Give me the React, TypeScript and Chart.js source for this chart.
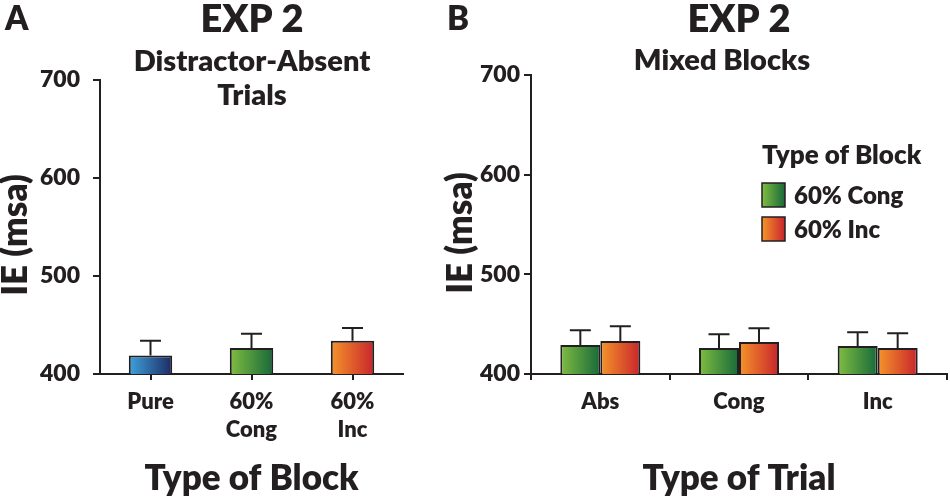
import React, { useEffect, useRef } from 'react';
import { Chart, registerables } from 'chart.js';

Chart.register(...registerables);

// ---------- data ----------
const blockCategories = ['Pure', ['60%', 'Cong'], ['60%', 'Inc']];
const blockMeans = [419, 426.5, 434];
const blockErrors = [15, 14.5, 13];

const trialCategories = ['Abs', 'Cong', 'Inc'];
const congMeans = [429, 426, 428];
const congErrors = [15, 14, 14];
const incMeans = [433, 432, 426];
const incErrors = [15, 14, 15];

const seriesNames = ['60% Cong', '60% Inc'];
const yMin = 400;
const yMax = 700;
const yStep = 100;

// ---------- styles ----------
const FONT = 'Lato, "Open Sans", sans-serif';
const WEIGHT = 800;
const INK = '#231f20';
const BLUE = ['#3fa2dc', '#1d2a63'];
const GREEN = ['#80bd41', '#17693a'];
const ORANGE = ['#f5952a', '#c8242c'];

type Stops = string[];

function grad(ctx: CanvasRenderingContext2D, x0: number, x1: number, s: Stops) {
  const g = ctx.createLinearGradient(x0, 0, x1, 0);
  g.addColorStop(0, s[0]);
  g.addColorStop(1, s[1]);
  return g;
}

function gradientPlugin(stopsFor: (di: number, i: number) => Stops) {
  return {
    id: 'barGradient',
    beforeDatasetsDraw(chart: any) {
      const ctx = chart.ctx;
      chart.data.datasets.forEach((_ds: any, di: number) => {
        const meta = chart.getDatasetMeta(di);
        meta.data.forEach((el: any, i: number) => {
          const x0 = el.x - el.width / 2;
          const x1 = el.x + el.width / 2;
          el.options = { ...el.options, backgroundColor: grad(ctx, x0, x1, stopsFor(di, i)) };
        });
      });
    },
  };
}

function errorBarPlugin(errorsFor: (di: number) => number[], capHalf: number) {
  return {
    id: 'errorBars',
    afterDatasetsDraw(chart: any) {
      const ctx = chart.ctx;
      const yScale = chart.scales.y;
      chart.data.datasets.forEach((ds: any, di: number) => {
        const meta = chart.getDatasetMeta(di);
        const errs = errorsFor(di);
        meta.data.forEach((el: any, i: number) => {
          const v = ds.data[i];
          const yTop = yScale.getPixelForValue(v + errs[i]);
          ctx.save();
          ctx.strokeStyle = INK;
          ctx.lineWidth = 2;
          ctx.beginPath();
          ctx.moveTo(el.x, el.y);
          ctx.lineTo(el.x, yTop);
          ctx.moveTo(el.x - capHalf, yTop);
          ctx.lineTo(el.x + capHalf, yTop);
          ctx.stroke();
          ctx.restore();
        });
      });
    },
  };
}

type TextItem = { text: string; x: number; y: number; size: number; align: CanvasTextAlign; rotate?: boolean };

type LegendSpec = { x: number; ys: number[]; labels: string[]; stops: Stops[]; textX: number; size: number; titleSize: number; titleY: number; title: string };

function textPlugin(items: TextItem[], legend?: LegendSpec) {
  return {
    id: 'panelText',
    afterDraw(chart: any) {
      const ctx: CanvasRenderingContext2D = chart.ctx;
      ctx.save();
      ctx.fillStyle = INK;
      ctx.textBaseline = 'alphabetic';
      items.forEach((t) => {
        ctx.font = `${WEIGHT} ${t.size}px ${FONT}`;
        ctx.textAlign = t.align;
        if (t.rotate) {
          ctx.save();
          ctx.translate(t.x, t.y);
          ctx.rotate(-Math.PI / 2);
          ctx.textBaseline = 'middle';
          ctx.fillText(t.text, 0, 0);
          ctx.restore();
        } else {
          ctx.fillText(t.text, t.x, t.y);
        }
      });
      if (legend) {
        ctx.font = `${WEIGHT} ${legend.titleSize}px ${FONT}`;
        ctx.textAlign = 'left';
        ctx.fillText(legend.title, legend.x, legend.titleY);
        ctx.font = `${WEIGHT} ${legend.size}px ${FONT}`;
        legend.labels.forEach((lab, i) => {
          const top = legend.ys[i];
          ctx.fillStyle = grad(ctx, legend.x, legend.x + 23, legend.stops[i]);
          ctx.fillRect(legend.x, top, 23, 24);
          ctx.strokeStyle = INK;
          ctx.lineWidth = 1.5;
          ctx.strokeRect(legend.x, top, 23, 24);
          ctx.fillStyle = INK;
          ctx.fillText(lab, legend.textX, top + 21);
        });
      }
      ctx.restore();
    },
  };
}

function axisScales(opts: { yWidth: number; yPad: number; gridOffset: boolean; xTitle: string }) {
  const tickFont = { family: FONT, size: 22, weight: WEIGHT as any, lineHeight: 1.27 };
  return {
    x: {
      type: 'category' as const,
      offset: true,
      grid: { offset: opts.gridOffset, drawOnChartArea: false, drawTicks: true, tickLength: 6, color: INK, lineWidth: 2 },
      border: { display: true, color: INK, width: 2 },
      ticks: { color: INK, font: tickFont, padding: 8, maxRotation: 0, autoSkip: false },
      title: {
        display: true,
        text: opts.xTitle,
        color: INK,
        font: { family: FONT, size: 35, weight: WEIGHT as any, lineHeight: 1.2 },
        padding: { top: 0, bottom: 3 },
      },
      afterFit: (s: any) => {
        s.height = 129;
      },
    },
    y: {
      min: yMin,
      max: yMax,
      ticks: { stepSize: yStep, color: INK, font: { family: FONT, size: 23, weight: WEIGHT as any }, padding: opts.yPad },
      grid: { drawOnChartArea: false, tickLength: 7, color: INK, lineWidth: 2 },
      border: { display: true, color: INK, width: 2 },
      title: { display: false },
      afterFit: (s: any) => {
        s.width = opts.yWidth;
      },
    },
  };
}

function PanelA() {
  const ref = useRef<HTMLCanvasElement>(null);
  useEffect(() => {
    const blockStops = [BLUE, GREEN, ORANGE];
    const chart = new Chart(ref.current!, {
      type: 'bar',
      data: {
        labels: blockCategories as any,
        datasets: [
          {
            data: blockMeans,
            backgroundColor: '#888',
            borderColor: INK,
            borderWidth: 2,
            borderSkipped: false,
            barPercentage: 0.43,
            categoryPercentage: 1,
          },
        ],
      },
      options: {
        animation: false,
        responsive: true,
        maintainAspectRatio: false,
        layout: { padding: { top: 80, left: 0, right: 72, bottom: 0 } },
        plugins: { legend: { display: false }, tooltip: { enabled: false } },
        scales: axisScales({ yWidth: 100, yPad: 13, gridOffset: false, xTitle: 'Type of Block' }) as any,
      },
      plugins: [
        gradientPlugin((_d, i) => blockStops[i]),
        errorBarPlugin(() => blockErrors, 10.5),
        textPlugin([
          { text: 'A', x: 5, y: 30, size: 33, align: 'left' },
          { text: 'EXP 2', x: 252, y: 32, size: 38, align: 'center' },
          { text: 'Distractor-Absent', x: 252, y: 71, size: 29, align: 'center' },
          { text: 'Trials', x: 252, y: 105, size: 29, align: 'center' },
          { text: 'IE (msa)', x: 16, y: 235, size: 35, align: 'center', rotate: true },
        ]),
      ],
    });
    return () => chart.destroy();
  }, []);
  return (
    <div style={{ position: 'absolute', left: 0, top: 0, width: 475, height: 503 }}>
      <canvas ref={ref} />
    </div>
  );
}

const B_LEFT = 435;

function PanelB() {
  const ref = useRef<HTMLCanvasElement>(null);
  useEffect(() => {
    const seriesStops = [GREEN, ORANGE];
    const chart = new Chart(ref.current!, {
      type: 'bar',
      data: {
        labels: trialCategories,
        datasets: [
          {
            label: seriesNames[0],
            data: congMeans,
            backgroundColor: '#888',
            borderColor: INK,
            borderWidth: 2,
            borderSkipped: false,
            barPercentage: 1,
            categoryPercentage: 0.577,
          },
          {
            label: seriesNames[1],
            data: incMeans,
            backgroundColor: '#888',
            borderColor: INK,
            borderWidth: 2,
            borderSkipped: false,
            barPercentage: 1,
            categoryPercentage: 0.577,
          },
        ],
      },
      options: {
        animation: false,
        responsive: true,
        maintainAspectRatio: false,
        layout: { padding: { top: 75, left: 0, right: 3, bottom: 0 } },
        plugins: { legend: { display: false }, tooltip: { enabled: false } },
        scales: axisScales({ yWidth: 531 - B_LEFT, yPad: 4, gridOffset: true, xTitle: 'Type of Trial' }) as any,
      },
      plugins: [
        gradientPlugin((di) => seriesStops[di]),
        errorBarPlugin((di) => (di === 0 ? congErrors : incErrors), 10.5),
        textPlugin(
          [
            { text: 'B', x: 447 - B_LEFT, y: 30, size: 33, align: 'left' },
            { text: 'EXP 2', x: 739 - B_LEFT, y: 32, size: 38, align: 'center' },
            { text: 'Mixed Blocks', x: 722 - B_LEFT, y: 70, size: 29, align: 'center' },
            { text: 'IE (msa)', x: 461 - B_LEFT, y: 233, size: 35, align: 'center', rotate: true },
          ],
          {
            x: 762 - B_LEFT,
            ys: [183, 217],
            labels: seriesNames,
            stops: seriesStops,
            textX: 794 - B_LEFT,
            size: 24,
            titleSize: 26,
            titleY: 164,
            title: 'Type of Block',
          }
        ),
      ],
    });
    return () => chart.destroy();
  }, []);
  return (
    <div style={{ position: 'absolute', left: B_LEFT, top: 0, width: 950 - B_LEFT, height: 503 }}>
      <canvas ref={ref} />
    </div>
  );
}

export default function App() {
  return (
    <div style={{ position: 'fixed', left: 0, top: 0, width: 950, height: 503, background: '#fff', overflow: 'hidden' }}>
      <PanelA />
      <PanelB />
    </div>
  );
}
